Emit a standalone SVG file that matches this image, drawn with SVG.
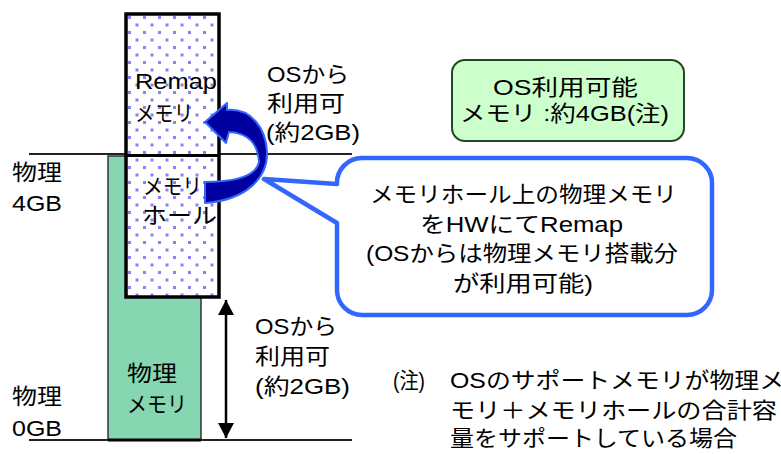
<svg xmlns="http://www.w3.org/2000/svg" width="781" height="454" viewBox="0 0 781 454">
<style>
text{font-family:"Liberation Sans","Noto Sans CJK JP",sans-serif;font-size:22px;fill:#000}
.ln{stroke:#222;stroke-width:1.8;fill:none}
</style>
<defs>
<pattern id="dots" x="126" y="14" width="15" height="15" patternUnits="userSpaceOnUse">
<rect width="15" height="15" fill="#fff"/>
<rect x="2" y="2" width="3" height="3" fill="#8484F2"/>
<rect x="9.5" y="9.5" width="3" height="3" fill="#8484F2"/>
</pattern>
<marker id="ah" viewBox="0 0 15 16" refX="15" refY="8" markerWidth="15" markerHeight="16" markerUnits="userSpaceOnUse" orient="auto-start-reverse">
<path d="M0,0 L15,8 L0,16 Z" fill="#000"/>
</marker>
</defs>
<rect width="781" height="454" fill="#fff"/>

<g id="baselines">
<line class="ln" x1="29" y1="154" x2="352" y2="154"/>
<line class="ln" x1="29" y1="440" x2="352" y2="440"/>
</g>

<g id="physical-memory">
<rect x="108" y="156" width="93" height="284" fill="#86D6B1" stroke="#333" stroke-width="1.5"/>
<line x1="108" y1="440" x2="201" y2="440" stroke="#000" stroke-width="3"/>
<text x="127" y="381" textLength="50" lengthAdjust="spacingAndGlyphs">物理</text>
<text x="127" y="412" textLength="60" lengthAdjust="spacingAndGlyphs">メモリ</text>
</g>

<g id="remap-column">
<rect x="126" y="14" width="93" height="283" fill="url(#dots)" stroke="#000" stroke-width="3.5"/>
<line x1="126" y1="155.5" x2="219" y2="155.5" stroke="#000" stroke-width="3"/>
<text x="135" y="89" textLength="82" lengthAdjust="spacingAndGlyphs">Remap</text>
<text x="135" y="121" textLength="58" lengthAdjust="spacingAndGlyphs">メモリ</text>
<text x="143" y="194" textLength="59" lengthAdjust="spacingAndGlyphs">メモリ</text>
<text x="142" y="223" textLength="75" lengthAdjust="spacingAndGlyphs">ホール</text>
</g>

<g id="label-4gb">
<text x="12" y="180" textLength="50" lengthAdjust="spacingAndGlyphs">物理</text>
<text x="12" y="211" textLength="50" lengthAdjust="spacingAndGlyphs">4GB</text>
</g>

<g id="label-0gb">
<text x="12" y="404" textLength="50" lengthAdjust="spacingAndGlyphs">物理</text>
<text x="12" y="436" textLength="50" lengthAdjust="spacingAndGlyphs">0GB</text>
</g>

<g id="os-upper">
<text x="267" y="82" textLength="82" lengthAdjust="spacingAndGlyphs">OSから</text>
<text x="267" y="111" textLength="78" lengthAdjust="spacingAndGlyphs">利用可</text>
<text x="266" y="140" textLength="94" lengthAdjust="spacingAndGlyphs">(約2GB)</text>
</g>

<g id="os-lower">
<text x="255" y="334" textLength="82" lengthAdjust="spacingAndGlyphs">OSから</text>
<text x="255" y="364" textLength="75" lengthAdjust="spacingAndGlyphs">利用可</text>
<text x="255" y="394" textLength="95" lengthAdjust="spacingAndGlyphs">(約2GB)</text>
</g>

<g id="os-total">
<rect x="452" y="60" width="232" height="81" rx="13" fill="#CCFFCC" stroke="#1E4A1E" stroke-width="2"/>
<text x="493" y="95" textLength="145" lengthAdjust="spacingAndGlyphs">OS利用可能</text>
<text x="460" y="121" textLength="209" lengthAdjust="spacingAndGlyphs">メモリ :約4GB(注)</text>
</g>

<g id="connectors">
<line x1="226" y1="300" x2="226" y2="438" stroke="#000" stroke-width="2.5" marker-start="url(#ah)" marker-end="url(#ah)"/>
<path d="M205,122 L227,103 L227,110 C251,108 266,128 267,152 C268,178 246,200 205,203 L205,182 C236,182 256,176 259,162 C258,145 249,133 229,132 L226,143 Z" fill="#0000A0" stroke="#3366FF" stroke-width="2" stroke-linejoin="round"/>
</g>

<g id="callout">
<path d="M362,158 H687 A25,25 0 0 1 712,183 V290 A25,25 0 0 1 687,315 H362 A25,25 0 0 1 337,290 V223 L264,179 L337,184 A25,25 0 0 1 362,158 Z" fill="#fff" stroke="#3366FF" stroke-width="4.5" stroke-linejoin="round"/>
<text x="370" y="202" textLength="307" lengthAdjust="spacingAndGlyphs">メモリホール上の物理メモリ</text>
<text x="420" y="232" textLength="203" lengthAdjust="spacingAndGlyphs">をHWにてRemap</text>
<text x="366" y="261" textLength="312" lengthAdjust="spacingAndGlyphs">(OSからは物理メモリ搭載分</text>
<text x="453" y="291" textLength="140" lengthAdjust="spacingAndGlyphs">が利用可能)</text>
</g>

<g id="note">
<text x="393" y="388" textLength="32" lengthAdjust="spacingAndGlyphs">(注)</text>
<text x="450" y="388" textLength="334" lengthAdjust="spacingAndGlyphs">OSのサポートメモリが物理メ</text>
<text x="450" y="418" textLength="327" lengthAdjust="spacingAndGlyphs">モリ＋メモリホールの合計容</text>
<text x="450" y="446" textLength="287" lengthAdjust="spacingAndGlyphs">量をサポートしている場合</text>
</g>
</svg>
